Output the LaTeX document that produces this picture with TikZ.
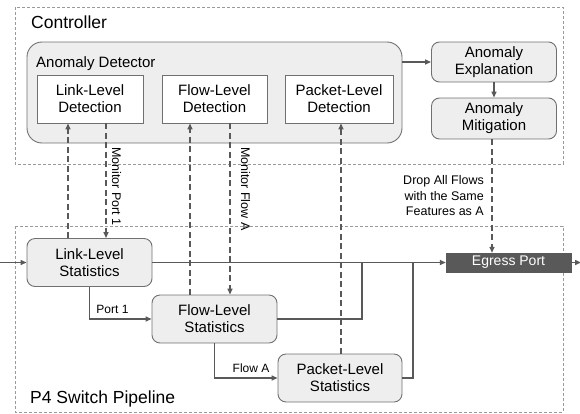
\documentclass[tikz,border=0pt]{standalone}
\usepackage{fontspec}
\setmainfont{Liberation Sans}
\usetikzlibrary{arrows.meta}

\definecolor{boxfill}{HTML}{EEEEEE}
\definecolor{boxline}{HTML}{707070}
\definecolor{wire}{HTML}{595959}
\definecolor{frame}{HTML}{9A9A9A}
\definecolor{portfill}{HTML}{595959}

\tikzset{
  region/.style={draw=frame, line width=0.8pt, dash pattern=on 3pt off 2pt},
  regiontitle/.style={font=\fontsize{17.5}{20}\selectfont, inner sep=0pt, anchor=base west},
  groupbox/.style={draw=boxline, fill=boxfill, line width=0.9pt, rounded corners=15pt,
    minimum width=375pt, minimum height=101pt},
  detectbox/.style={draw=boxline, fill=white, line width=0.9pt, align=center,
    font=\fontsize{15}{17}\selectfont, minimum height=48pt, inner sep=0pt},
  procbox/.style={draw=boxline, fill=boxfill, line width=0.9pt, rounded corners=8pt,
    align=center, font=\fontsize{15}{17}\selectfont, minimum width=125pt, inner sep=0pt},
  portbox/.style={draw=portfill, fill=portfill, text=white, font=\fontsize{14}{16}\selectfont,
    minimum width=125pt, minimum height=19pt, inner sep=0pt},
  tip/.style={-{Triangle[length=6pt,width=5pt]}},
  flow/.style={draw=wire, line width=1.4pt, tip},
  plain/.style={draw=wire, line width=1.4pt},
  ctrl/.style={draw=wire, line width=1.4pt, dash pattern=on 6pt off 3.5pt, tip},
  small/.style={font=\fontsize{12}{14}\selectfont, inner sep=0pt},
  vlabel/.style={font=\fontsize{12.5}{14}\selectfont, inner sep=0pt, rotate=-90, anchor=base west},
}

\begin{document}
\begin{tikzpicture}[x=1pt, y=-1pt]
\useasboundingbox (0,0) rectangle (580,413);

% dashed regions
\draw[region] (15,7) rectangle (563,164);
\draw[region] (15,226) rectangle (563,412);
\node[regiontitle] (ctltitle) at (31,28) {Controller};
\node[regiontitle] (p4title) at (30,403) {P4 Switch Pipeline};

% controller side
\node[groupbox] (det) at (214.5,92.5) {};
\node[font=\fontsize{15}{17}\selectfont, inner sep=0pt, anchor=base west] (dettitle) at (36,67) {Anomaly Detector};
\node[detectbox, minimum width=106pt] (lld) at (90,99) {Link-Level\\Detection};
\node[detectbox, minimum width=105pt] (fld) at (214.5,99) {Flow-Level\\Detection};
\node[detectbox, minimum width=108pt] (pld) at (339,99) {Packet-Level\\Detection};

\node[procbox, minimum height=40pt] (expl) at (494,62) {Anomaly\\Explanation};
\node[procbox, minimum height=41pt] (mit) at (494,118.5) {Anomaly\\Mitigation};

\draw[flow] (expl.west -| det.east) -- (expl.west);
\draw[flow] (expl.south) -- (mit.north);

% pipeline side
\node[procbox, minimum height=48pt] (lls) at (89.5,262.5) {Link-Level\\Statistics};
\node[procbox, minimum height=48pt] (fls) at (214.5,319) {Flow-Level\\Statistics};
\node[procbox, minimum height=48pt, minimum width=124pt] (pls) at (340,378) {Packet-Level\\Statistics};
\node[portbox] (eg) at (508.5,262.5) {Egress Port};

\coordinate (in) at (0,262.5);
\coordinate (out) at (581,262.5);
\coordinate (j1) at (362,262.5);
\coordinate (j2) at (413,262.5);

\draw[flow] (in) -- (lls.west);
\draw[flow] (lls.east) -- (eg.west);
\draw[flow] (eg.east) -- (out);
\draw[plain] (fls.east) -| (j1);
\draw[plain] (pls.east) -| (j2);

\draw[flow] (lls.south) |- (fls.west)
  node[small, pos=0.685, above=5pt] (p1lab) {Port 1};
\draw[flow] (fls.south) |- (pls.west)
  node[small, pos=0.79, above=5pt] (falab) {Flow A};

% statistics up, monitoring requests down
\draw[ctrl] ([xshift=-21.5pt]lls.north) -- ([xshift=-21.5pt]lls.north |- lld.south);
\draw[ctrl] ([xshift=16pt]lld.south) -- ([xshift=16pt]lld.south |- lls.north);
\draw[ctrl] ([xshift=-24.5pt]fls.north) -- ([xshift=-24.5pt]fls.north |- fld.south);
\draw[ctrl] ([xshift=15.5pt]fld.south) -- ([xshift=15.5pt]fld.south |- fls.north);
\draw[ctrl] ([xshift=1pt]pls.north) -- ([xshift=1pt]pls.north |- pld.south);
\draw[ctrl] ([xshift=-2pt]mit.south) -- ([xshift=-2pt]mit.south |- eg.north);

\node[vlabel] (monport) at (112,147) {Monitor Port 1};
\node[vlabel] (monflow) at (241,147) {Monitor Flow A};
\node[font=\fontsize{12.5}{15.5}\selectfont, inner sep=0pt, align=right, anchor=east] (droplab) at (484,196)
  {Drop All Flows\\with the Same\\Features as A};
\end{tikzpicture}
\end{document}
